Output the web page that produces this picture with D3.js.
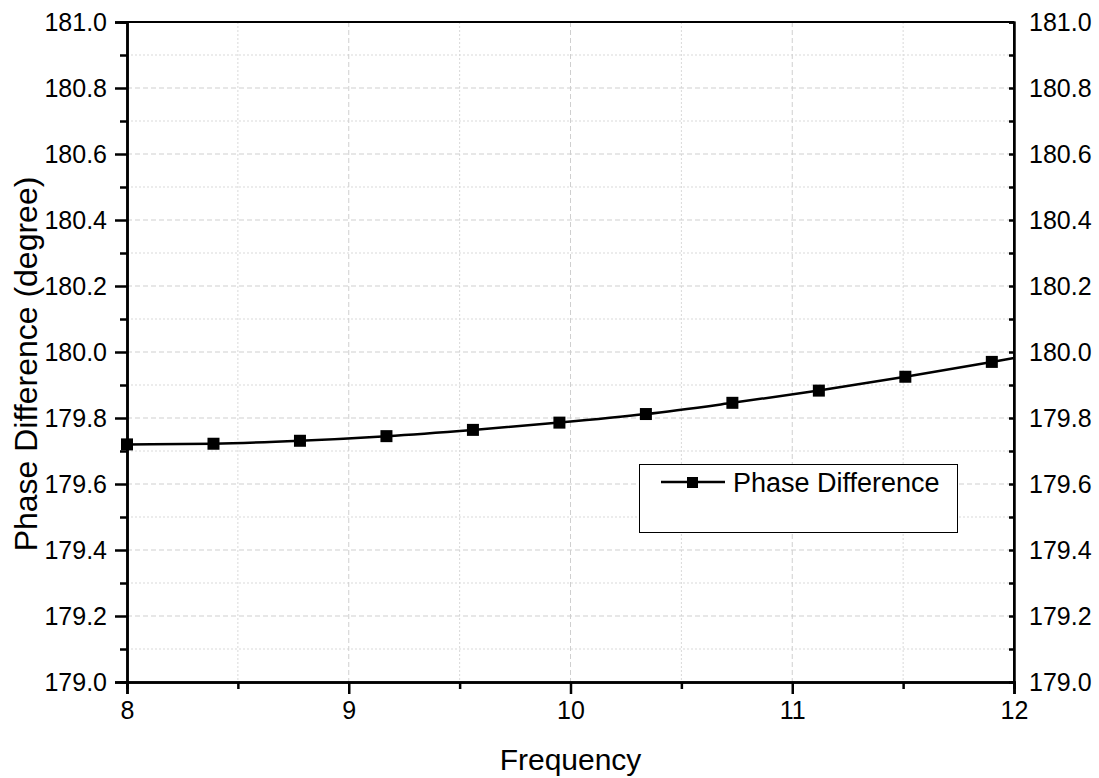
<!DOCTYPE html>
<html><head><meta charset="utf-8">
<script src="https://cdn.jsdelivr.net/npm/d3@7"></script>
<style>body{margin:0;background:#fff}text{font-family:Arial,"Liberation Sans",sans-serif;fill:#000}</style>
</head><body><svg id="c" width="1099" height="778"></svg>
<script>
const freq = [8.0, 8.39, 8.78, 9.17, 9.56, 9.95, 10.34, 10.73, 11.12, 11.51, 11.9];
const phase = [179.720, 179.722, 179.731, 179.745, 179.764, 179.786, 179.812, 179.846, 179.883, 179.925, 179.970];
const lineEndFreq = 12.0, lineEndPhase = 179.982;
const xTicks = [8, 9, 10, 11, 12];
const yTicks = [179.0, 179.2, 179.4, 179.6, 179.8, 180.0, 180.2, 180.4, 180.6, 180.8, 181.0];
const seriesName = "Phase Difference";
const xTitle = "Frequency", yTitle = "Phase Difference (degree)";

const svg = d3.select("#c");
const L = 127, R = 1014, T = 22, B = 682;
const x = d3.scaleLinear().domain([8, 12]).range([L, R]);
const y = d3.scaleLinear().domain([179, 181]).range([B, T]);
const xMinor = d3.range(8.5, 12, 1);
const yMinor = d3.range(179.1, 181, 0.2);

// grid
const g = svg.append("g");
g.selectAll(".gmx").data(xMinor).join("line").attr("x1", d => x(d)).attr("x2", d => x(d)).attr("y1", T).attr("y2", B)
  .attr("stroke", "#d9d9d9").attr("stroke-width", 1).attr("stroke-dasharray", "2,2");
g.selectAll(".gmy").data(yMinor).join("line").attr("y1", d => y(d)).attr("y2", d => y(d)).attr("x1", L).attr("x2", R)
  .attr("stroke", "#d9d9d9").attr("stroke-width", 1).attr("stroke-dasharray", "2,2");
g.selectAll(".gx").data(xTicks.slice(1, -1)).join("line").attr("x1", d => x(d)).attr("x2", d => x(d)).attr("y1", T).attr("y2", B)
  .attr("stroke", "#cfcfcf").attr("stroke-width", 1).attr("stroke-dasharray", "5,3");
g.selectAll(".gy").data(yTicks.slice(1, -1)).join("line").attr("y1", d => y(d)).attr("y2", d => y(d)).attr("x1", L).attr("x2", R)
  .attr("stroke", "#cfcfcf").attr("stroke-width", 1).attr("stroke-dasharray", "5,3");

// frame
svg.append("line").attr("x1", L).attr("x2", R).attr("y1", T).attr("y2", T).attr("stroke", "#000").attr("stroke-width", 2);
svg.append("line").attr("x1", R).attr("x2", R).attr("y1", T).attr("y2", B).attr("stroke", "#000").attr("stroke-width", 2);

// axes
const fmt = d3.format(".1f");
const axL = svg.append("g").attr("transform", `translate(${L},0)`)
  .call(d3.axisLeft(y).tickValues(yTicks).tickFormat(fmt).tickSize(12).tickPadding(8));
const axLm = svg.append("g").attr("transform", `translate(${L},0)`)
  .call(d3.axisLeft(y).tickValues(yMinor).tickFormat("").tickSize(7));
const axR = svg.append("g").attr("transform", `translate(${R},0)`)
  .call(d3.axisRight(y).tickValues(yTicks).tickFormat(fmt).tickSize(-5).tickPadding(15));
const axRm = svg.append("g").attr("transform", `translate(${R},0)`)
  .call(d3.axisRight(y).tickValues(yMinor).tickFormat("").tickSize(-5));
const axB = svg.append("g").attr("transform", `translate(0,${B})`)
  .call(d3.axisBottom(x).tickValues(xTicks).tickFormat(d3.format("d")).tickSize(12).tickPadding(7));
const axBm = svg.append("g").attr("transform", `translate(0,${B})`)
  .call(d3.axisBottom(x).tickValues(xMinor).tickFormat("").tickSize(7));
[axL, axLm, axR, axRm, axB, axBm].forEach(a => {
  a.selectAll(".domain").attr("stroke", "#000").attr("stroke-width", 2.5);
  a.selectAll(".tick line").attr("stroke", "#000").attr("stroke-width", 2.5);
  a.selectAll("text").attr("font-size", 25).attr("font-family", "Arial, 'Liberation Sans', sans-serif").attr("fill", "#000");
});
axR.selectAll(".domain").attr("stroke-width", 2);
axRm.selectAll(".domain").attr("stroke-width", 2);

// titles
svg.append("text").attr("x", (L + R) / 2).attr("y", 770).attr("text-anchor", "middle").attr("font-size", 30).text(xTitle);
svg.append("text").attr("transform", `translate(37,364) rotate(-90)`).attr("text-anchor", "middle")
  .attr("font-size", 32).text(yTitle);

// series
const pts = freq.map((f, i) => [f, phase[i]]);
const linePts = pts.concat([[lineEndFreq, lineEndPhase]]);
svg.append("path").datum(linePts).attr("fill", "none").attr("stroke", "#000").attr("stroke-width", 2.5)
  .attr("d", d3.line().x(d => x(d[0])).y(d => y(d[1])).curve(d3.curveMonotoneX));
svg.selectAll(".m").data(pts).join("rect").attr("x", d => x(d[0]) - 6).attr("y", d => y(d[1]) - 6)
  .attr("width", 12).attr("height", 12).attr("fill", "#000");

// legend
const lg = svg.append("g");
lg.append("rect").attr("x", 639.5).attr("y", 464.5).attr("width", 318).attr("height", 68).attr("fill", "#fff").attr("stroke", "#000").attr("stroke-width", 1);
lg.append("line").attr("x1", 661).attr("x2", 725).attr("y1", 482).attr("y2", 482).attr("stroke", "#000").attr("stroke-width", 2.5);
lg.append("rect").attr("x", 687).attr("y", 477).attr("width", 11).attr("height", 11).attr("fill", "#000");
lg.append("text").attr("x", 733).attr("y", 492).attr("font-size", 27).text(seriesName);
</script></body></html>
